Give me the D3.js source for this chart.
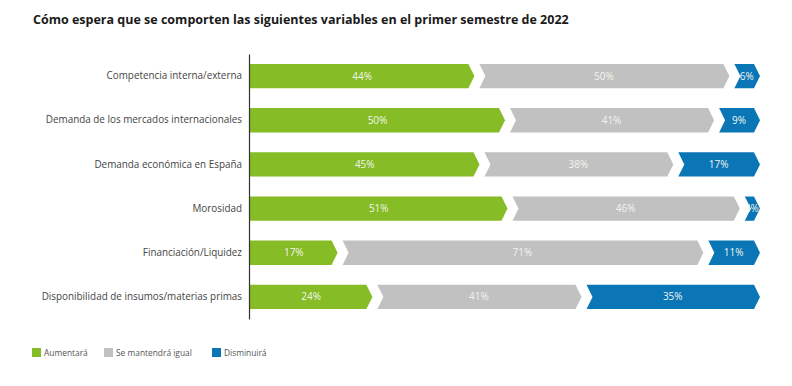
<!DOCTYPE html>
<html>
<head>
<meta charset="utf-8">
<script src="https://cdn.jsdelivr.net/npm/d3@7"></script>
<style>
  body { margin: 0; background: #fff; }
  svg text { font-family: "Open Sans", sans-serif; }
</style>
</head>
<body>
<div id="chart"></div>
<script>
// data
const categories = ['Competencia interna/externa', 'Demanda de los mercados internacionales',
  'Demanda económica en España', 'Morosidad', 'Financiación/Liquidez',
  'Disponibilidad de insumos/materias primas'];
const aumentara = [44, 50, 45, 51, 17, 24];
const igual = [50, 41, 38, 46, 71, 41];
const disminuira = [6, 9, 17, 4, 11, 35];
const seriesNames = ['Aumentará', 'Se mantendrá igual', 'Disminuirá'];
const colors = ['#86bc25', '#c0c1c0', '#0a76b6'];

const width = 792, height = 386;
const svg = d3.select('#chart').append('svg')
  .attr('width', width).attr('height', height);

svg.append('text')
  .attr('x', 33).attr('y', 24)
  .attr('font-size', '12.5px').attr('font-weight', 700).attr('fill', '#1a1a1a')
  .text('Cómo espera que se comporten las siguientes variables en el primer semestre de 2022');

const rows = categories.map((c, i) => {
  const vals = [aumentara[i], igual[i], disminuira[i]];
  const total = d3.sum(vals);
  let cum = 0;
  const segs = vals.map((v, k) => {
    const s = { k: k, v: v, x0: cum / total, x1: (cum + v) / total };
    cum += v;
    return s;
  });
  return { cat: c, segs: segs };
});

const x = d3.scaleLinear().domain([0, 1]).range([250, 760]);
const y = d3.scaleBand().domain(categories).range([54, 319])
  .paddingInner(0.45).paddingOuter(0.225);

const d = 6, gap = 5;
function chevron(s, top, h) {
  const left = x(s.x0) + (s.k === 0 ? 0 : gap);
  const right = x(s.x1);
  const mid = top + h / 2, bot = top + h;
  const pts = [[left, top], [right - d, top], [right, mid], [right - d, bot], [left, bot]];
  if (s.k !== 0) pts.push([left + d, mid]);
  return 'M' + pts.map(p => p.join(',')).join('L') + 'Z';
}

const row = svg.selectAll('.row').data(rows).enter().append('g').attr('class', 'row');

row.selectAll('path').data(r => r.segs.map(s => Object.assign({ cat: r.cat }, s)))
  .enter().append('path')
  .attr('d', s => chevron(s, y(s.cat), y.bandwidth()))
  .attr('fill', s => colors[s.k]);

row.selectAll('text.val').data(r => r.segs.map(s => Object.assign({ cat: r.cat }, s)))
  .enter().append('text')
  .attr('class', 'val')
  .attr('x', s => (x(s.x0) + x(s.x1)) / 2 + (s.k === 0 ? 0 : 2))
  .attr('y', s => y(s.cat) + y.bandwidth() / 2 + 3.5)
  .attr('text-anchor', 'middle')
  .attr('font-size', '10px')
  .attr('fill', '#f2f5ee')
  .text(s => s.v + '%');

const yAxis = d3.axisLeft(y).tickSize(0).tickPadding(7);
const yAxisG = svg.append('g').attr('transform', 'translate(249,0)').call(yAxis);
yAxisG.select('.domain').attr('stroke', '#333').attr('stroke-width', 1.2);
yAxisG.selectAll('text').attr('font-size', '9.9px').attr('fill', '#444')
  .attr('font-family', '"Open Sans", sans-serif');

const legendX = [32, 104, 212];
const leg = svg.selectAll('.leg').data(seriesNames).enter().append('g')
  .attr('class', 'leg')
  .attr('transform', (n, i) => 'translate(' + legendX[i] + ',348)');
leg.append('rect').attr('width', 9).attr('height', 9).attr('fill', (n, i) => colors[i]);
leg.append('text').attr('x', 12).attr('y', 8.3)
  .attr('font-size', '8.4px').attr('fill', '#555').text(n => n);
</script>
</body>
</html>
